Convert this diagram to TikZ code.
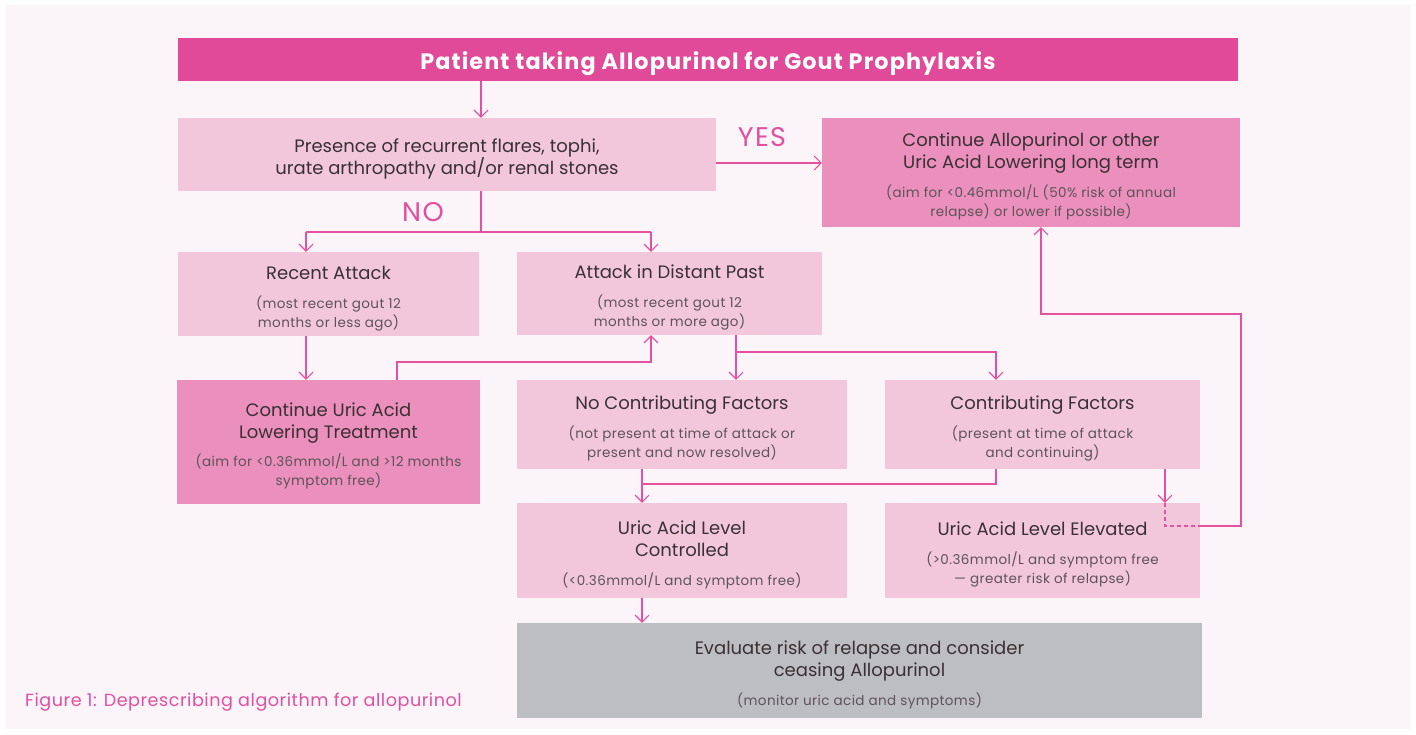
\documentclass[tikz,border=0pt]{standalone}
\usepackage{fontspec}
\setmainfont{Poppins}
\newfontfamily\bodyfam{Poppins}
\newfontfamily\subfam[LetterSpace=3]{Poppins}
\newfontfamily\labfam[LetterSpace=5]{Poppins}
\usetikzlibrary{arrows.meta}
\definecolor{bgc}{HTML}{FBF4F8}
\definecolor{titlec}{HTML}{E04A98}
\definecolor{lightc}{HTML}{F2C7DC}
\definecolor{medc}{HTML}{EB8FBC}
\definecolor{grayc}{HTML}{BDBEC1}
\definecolor{linec}{HTML}{E4529F}
\definecolor{textc}{HTML}{3A3035}
\definecolor{subc}{HTML}{5E5358}
\definecolor{labc}{HTML}{E0509F}
\newcommand\mainf{\bodyfam\fontsize{18}{22}\selectfont}
\newcommand\subf{\subfam\fontsize{13.5}{19}\selectfont\color{subc}}
\newcommand\tst{\rule{0pt}{22pt}}
\begin{document}
\begin{tikzpicture}[x=1pt,y=-1pt,
  boxbase/.style={rectangle, inner sep=0pt, align=center, text=textc, font=\mainf},
  lightbox/.style={boxbase, fill=lightc},
  medbox/.style={boxbase, fill=medc},
  graybox/.style={boxbase, fill=grayc},
  conn/.style={draw=linec, line width=1.2pt},
  arr/.style={conn, -{Straight Barb[length=7pt,width=14pt,line width=1.1pt]}},
  dashconn/.style={conn, dashed, dash pattern=on 4pt off 3pt},
  lab/.style={text=labc, inner sep=0pt}
]
\useasboundingbox (0,0) rectangle (1416,734);
\fill[white] (0,0) rectangle (1416,734);
\fill[bgc] (5,5) rectangle (1411,729);

% nodes
\node[boxbase, fill=titlec, text=white, font=\labfam\fontsize{22.3}{26}\selectfont\bfseries,
  minimum width=1060pt, minimum height=43pt] (title) at (708,59.5)
  {\rule{0pt}{26pt}Patient taking Allopurinol for Gout Prophylaxis};

\node[lightbox, minimum width=538pt, minimum height=73pt] (b1) at (447,154.5)
  {\tst Presence of recurrent flares, tophi,\\urate arthropathy and/or renal stones};

\node[medbox, minimum width=418pt, minimum height=109pt] (b2) at (1031,172.5)
  {\tst Continue Allopurinol or other\\Uric Acid Lowering long term\\[7pt]\subf (aim for <0.46mmol/L (50\% risk of annual\\[-3pt]\subf relapse) or lower if possible)};

\node[lightbox, minimum width=301pt, minimum height=84pt] (ra) at (328.5,294)
  {\tst Recent Attack\\[7pt]\subf (most recent gout 12\\[-3pt]\subf months or less ago)};

\node[lightbox, minimum width=305pt, minimum height=83pt] (dp) at (669.5,293.5)
  {\tst Attack in Distant Past\\[7pt]\subf (most recent gout 12\\[-3pt]\subf months or more ago)};

\node[medbox, minimum width=303pt, minimum height=124pt] (cu) at (328.5,442)
  {\tst Continue Uric Acid\\Lowering Treatment\\[6pt]\subf (aim for <0.36mmol/L and >12 months\\[-3pt]\subf symptom free)};

\node[lightbox, minimum width=330pt, minimum height=89pt] (ncf) at (682,424.5)
  {\tst No Contributing Factors\\[7pt]\subf (not present at time of attack or\\[-3pt]\subf present and now resolved)};

\node[lightbox, minimum width=315pt, minimum height=89pt] (cf) at (1042.5,424.5)
  {\tst Contributing Factors\\[7pt]\subf (present at time of attack\\[-3pt]\subf and continuing)};

\node[lightbox, minimum width=330pt, minimum height=95pt] (ctrl) at (682,550.5)
  {\tst Uric Acid Level\\Controlled\\[7pt]\subf (<0.36mmol/L and symptom free)};

\node[lightbox, minimum width=315pt, minimum height=95pt] (elev) at (1042.5,550.5)
  {\tst Uric Acid Level Elevated\\[7pt]\subf (>0.36mmol/L and symptom free\\[-3pt]\subf — greater risk of relapse)};

\node[graybox, minimum width=685pt, minimum height=95pt] (eval) at (859.5,670.5)
  {\tst Evaluate risk of relapse and consider\\ceasing Allopurinol\\[7pt]\subf (monitor uric acid and symptoms)};

% labels
\node[lab, font=\labfam\fontsize{27}{30}\selectfont] (yes) at (762,137) {YES};
\node[lab, font=\labfam\fontsize{27}{30}\selectfont] (no) at (423,212) {NO};
\node[lab, anchor=west, font=\subfam\fontsize{17.6}{20}\selectfont] (cap) at (25,702)
  {Figure 1: Deprescribing algorithm for allopurinol};

% helper coordinates
\coordinate (xa) at (481,0);
\coordinate (xra) at (306,0);
\coordinate (xdp) at (651,0);
\coordinate (xcu) at (397,0);
\coordinate (xd) at (736,0);
\coordinate (xcf) at (996,0);
\coordinate (xc) at (642,0);
\coordinate (xe) at (1165,0);
\coordinate (xb2) at (1041,0);
\coordinate (ynob) at (0,232);
\coordinate (ycu) at (0,362);
\coordinate (yd) at (0,352);
\coordinate (yc) at (0,484);
\coordinate (yyes) at (0,163);
\coordinate (yel) at (0,526);
\coordinate (xr) at (1241,0);
\coordinate (yr) at (0,314);

% connectors
\draw[arr] (title.south -| xa) -- (b1.north -| xa);
\draw[arr] (b1.east |- yyes) -- (b2.west |- yyes);
\draw[conn] (b1.south -| xa) -- (xa |- ynob);
\draw[conn] (xra |- ynob) -- (xdp |- ynob);
\draw[arr] (xra |- ynob) -- (ra.north -| xra);
\draw[arr] (xdp |- ynob) -- (dp.north -| xdp);
\draw[arr] (ra.south -| xra) -- (cu.north -| xra);
\draw[arr] (cu.north -| xcu) -- (xcu |- ycu) -- (xdp |- ycu) -- (dp.south -| xdp);
\draw[arr] (dp.south -| xd) -- (ncf.north -| xd);
\draw[arr] (xd |- yd) -- (xcf |- yd) -- (cf.north -| xcf);
\draw[arr] (ncf.south -| xc) -- (ctrl.north -| xc);
\draw[conn] (cf.south -| xcf) -- (xcf |- yc) -- (xc |- yc);
\draw[arr] (cf.south -| xe) -- (elev.north -| xe);
\draw[dashconn] (elev.north -| xe) -- (xe |- yel) -- (elev.east |- yel);
\draw[arr] (elev.east |- yel) -- (xr |- yel) -- (xr |- yr) -- (xb2 |- yr) -- (b2.south -| xb2);
\draw[arr] (ctrl.south -| xc) -- (eval.north -| xc);
\end{tikzpicture}
\end{document}
